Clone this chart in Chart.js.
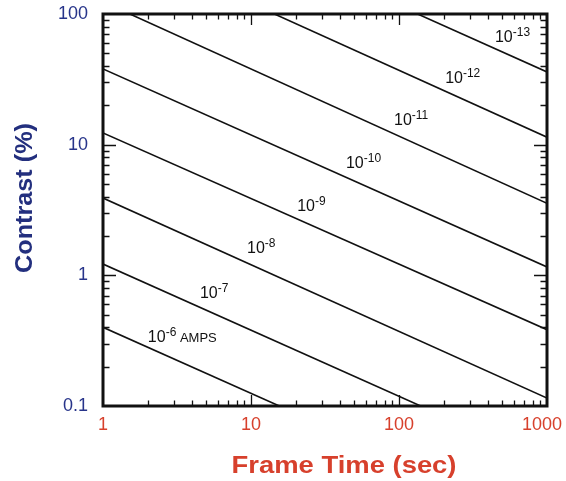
<!DOCTYPE html>
<html>
<head>
<meta charset="utf-8">
<script src="https://cdn.jsdelivr.net/npm/chart.js@4"></script>
<style>
  html,body{margin:0;padding:0;background:#fff}
  #wrap{width:566px;height:481px}
</style>
</head>
<body>
<div id="wrap"><canvas id="chart" width="566" height="481"></canvas></div>
<script>
// current exponents (10^n AMPS) for each line
const ampsExp = ['-6','-7','-8','-9','-10','-11','-12','-13'];
// frame time range (sec)
const frameStart = 1, frameEnd = 1000;
// contrast (%) read at frame time 1 s and 1000 s
const contrastAtStart = [0.40, 1.22, 3.9, 12.3, 38, 124, 392, 1200];
const contrastAtEnd = [0.0122, 0.037, 0.115, 0.384, 1.16, 3.56, 11.4, 36];
// where each line label sits (data coords, left / baseline)
const labelTime = [2.01, 4.52, 9.4, 20.5, 43.8, 92.5, 205, 445];
const labelContrast = [0.31, 0.67, 1.48, 3.11, 6.63, 14.1, 29.8, 61.4];
const xTicks = [1, 10, 100, 1000];
const yTicks = [0.1, 1, 10, 100];

const NAVY = '#27348a', RED = '#d7402c';
const FONT = '"Liberation Sans", Arial, sans-serif';

const datasets = ampsExp.map((e,i)=>({
  label: '10^' + e,
  data: [{x:frameStart, y:contrastAtStart[i]}, {x:frameEnd, y:contrastAtEnd[i]}],
  borderColor: '#111', borderWidth: 1.6, pointRadius: 0, fill: false, tension: 0
}));

function drawStretched(ctx, text, cx, cy, width, rot){
  ctx.save();
  ctx.translate(cx, cy);
  if(rot) ctx.rotate(rot);
  const w = ctx.measureText(text).width;
  ctx.scale(width / w, 1);
  ctx.textAlign = 'center'; ctx.textBaseline = 'middle';
  ctx.fillText(text, 0, 0);
  ctx.restore();
}

const framePlugin = {
  id: 'frame',
  afterDraw(chart){
    const {ctx, chartArea:a, scales:{x, y}} = chart;
    ctx.save();
    ctx.strokeStyle = '#111';
    // inward ticks on all four sides
    ctx.lineWidth = 1.3;
    ctx.beginPath();
    for(let k=0;k<3;k++) for(let m=1;m<10;m++){
      const v = m*Math.pow(10,k);
      if(v<=frameStart || v>=frameEnd) continue;
      const px = Math.round(x.getPixelForValue(v)) + 0.5;
      const len = m===1 ? 11 : 5.5;
      ctx.moveTo(px, a.bottom); ctx.lineTo(px, a.bottom-len);
      ctx.moveTo(px, a.top); ctx.lineTo(px, a.top+len);
    }
    for(let k=-1;k<2;k++) for(let m=1;m<10;m++){
      const v = m*Math.pow(10,k);
      if(v<=yTicks[0] || v>=yTicks[yTicks.length-1]) continue;
      const py = Math.round(y.getPixelForValue(v)) + 0.5;
      const len = m===1 ? 13 : 6.5;
      ctx.moveTo(a.left, py); ctx.lineTo(a.left+len, py);
      ctx.moveTo(a.right, py); ctx.lineTo(a.right-len, py);
    }
    ctx.stroke();
    // frame
    ctx.lineWidth = 3;
    ctx.strokeRect(a.left, a.top, a.right-a.left, a.bottom-a.top);

    // line labels
    ctx.fillStyle = '#111';
    ctx.textBaseline = 'alphabetic'; ctx.textAlign = 'left';
    ampsExp.forEach((e,i)=>{
      let px = x.getPixelForValue(labelTime[i]);
      const py = y.getPixelForValue(labelContrast[i]);
      ctx.font = '16px ' + FONT;
      ctx.fillText('10', px, py);
      px += ctx.measureText('10').width;
      ctx.font = '12px ' + FONT;
      ctx.fillText(e, px, py-6);
      px += ctx.measureText(e).width;
      if(i===0){
        ctx.font = '13px ' + FONT;
        ctx.fillText(' AMPS', px, py);
      }
    });

    // axis titles
    ctx.font = 'bold 24px ' + FONT;
    ctx.fillStyle = RED;
    drawStretched(ctx, 'Frame Time (sec)', 344, 466, 225, 0);
    ctx.fillStyle = '#232f7e';
    drawStretched(ctx, 'Contrast (%)', 25, 198, 150, -Math.PI/2);
    ctx.restore();
  }
};

new Chart(document.getElementById('chart'), {
  type: 'line',
  data: { datasets },
  options: {
    responsive: false,
    animation: false,
    layout: { padding: { left: 0, top: 14, right: 19, bottom: 0 } },
    plugins: { legend: { display: false }, tooltip: { enabled: false } },
    scales: {
      x: {
        type: 'logarithmic', min: frameStart, max: frameEnd,
        grid: { display: false, drawTicks: false }, border: { display: false },
        afterBuildTicks: s => { s.ticks = xTicks.map(v=>({value:v})); },
        afterFit: s => { s.height = 75; s.paddingLeft = 0; s.paddingRight = 0; },
        ticks: {
          autoSkip: false, maxRotation: 0, padding: 8, color: RED,
          font: { size: 18, family: FONT },
          // last label sits a little left of its tick, as in the original
          callback: v => v === frameEnd ? String(v) + '\u2007' : String(v)
        }
      },
      y: {
        type: 'logarithmic', min: yTicks[0], max: yTicks[yTicks.length-1],
        grid: { display: false, drawTicks: false }, border: { display: false },
        afterBuildTicks: s => { s.ticks = yTicks.map(v=>({value:v})); },
        afterFit: s => { s.width = 103; s.paddingTop = 0; s.paddingBottom = 0; },
        ticks: {
          autoSkip: false, padding: 15, color: NAVY,
          font: { size: 18, family: FONT },
          callback: v => String(v)
        }
      }
    }
  },
  plugins: [framePlugin]
});
</script>
</body>
</html>
